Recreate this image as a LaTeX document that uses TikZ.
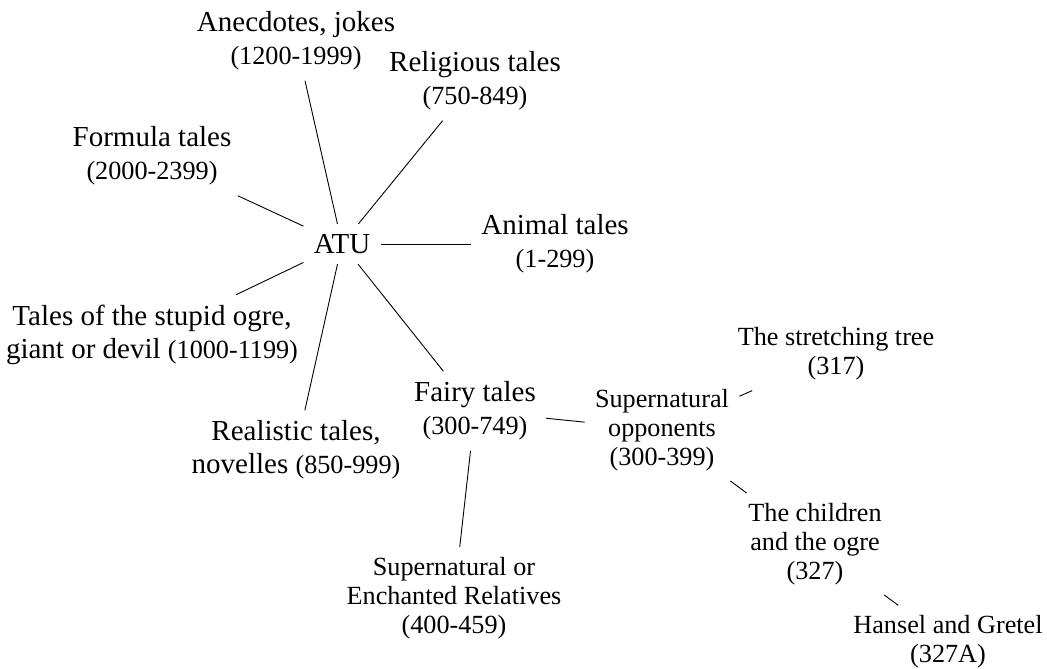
\documentclass[tikz,border=0pt]{standalone}
\usepackage{fontspec}
\setmainfont{Liberation Serif}
\tikzset{
  topic/.style={align=center, inner sep=5pt, font=\fontsize{14.5}{16.5}\selectfont},
  subtopic/.style={align=center, inner sep=5pt, font=\fontsize{13.1}{14.35}\selectfont},
  link/.style={draw=black, line width=0.45pt}
}
\newcommand{\rng}[1]{{\fontsize{13.1}{16.5}\selectfont #1}}
\begin{document}
\begin{tikzpicture}[x=0.5pt, y=-0.5pt]
  \useasboundingbox (0,0) rectangle (1047,668);

  % root
  \node[topic] (atu) at (342,244) {ATU};

  % first level: the ATU groups
  \node[topic] (anec)    at (296,41)  {Anecdotes, jokes\\\rng{(1200-1999)}};
  \node[topic] (relig)   at (475,81)  {Religious tales\\\rng{(750-849)}};
  \node[topic] (formula) at (152,156) {Formula tales\\\rng{(2000-2399)}};
  \node[topic] (animal)  at (555,244) {Animal tales\\\rng{(1-299)}};
  \node[topic] (ogre)    at (152,335) {Tales of the stupid ogre,\\giant or devil \rng{(1000-1199)}};
  \node[topic] (real)    at (296,450) {Realistic tales,\\novelles \rng{(850-999)}};
  \node[topic] (fairy)   at (475,411) {Fairy tales\\\rng{(300-749)}};

  % fairy tale subgroups and types
  \node[subtopic] (supopp)  at (662,430) {Supernatural\\opponents\\(300-399)};
  \node[subtopic] (relat)   at (454,598) {Supernatural or\\Enchanted Relatives\\(400-459)};
  \node[subtopic] (stretch) at (836,354) {The stretching tree\\(317)};
  \node[subtopic] (child)   at (815,544) {The children\\and the ogre\\(327)};
  \node[subtopic] (hansel)  at (948,642) {Hansel and Gretel\\(327A)};

  % connectors
  \foreach \n in {anec, relig, formula, animal, ogre, real, fairy}
    \draw[link] (atu) -- (\n);
  \draw[link] (fairy) -- (supopp);
  \draw[link] (fairy) -- (relat);
  \draw[link] (supopp) -- (stretch);
  \draw[link] (supopp) -- (child);
  \draw[link] (child) -- (hansel);
\end{tikzpicture}
\end{document}
